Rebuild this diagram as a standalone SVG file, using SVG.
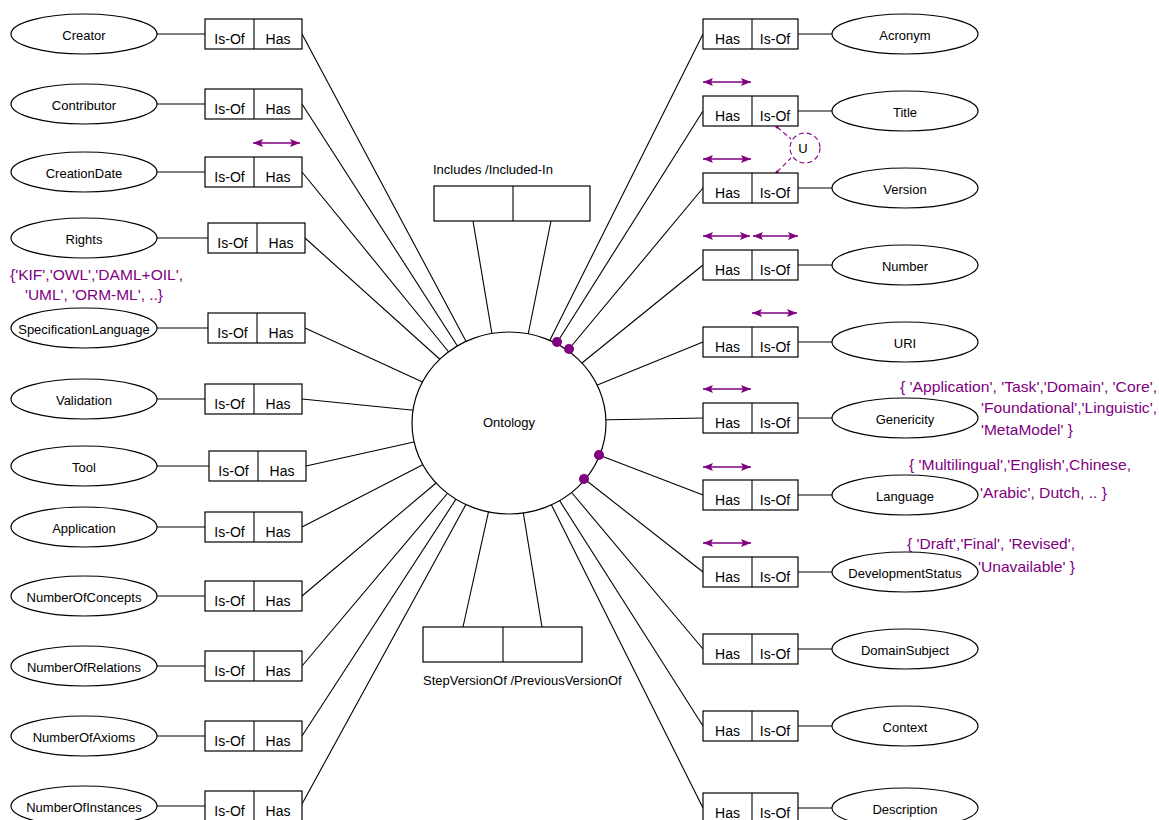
<svg xmlns="http://www.w3.org/2000/svg" width="1159" height="820" viewBox="0 0 1159 820">
<style>
  .bg{fill:#ffffff}
  .ell{fill:#ffffff;stroke:#000;stroke-width:1.2}
  .box{fill:#ffffff;stroke:#000;stroke-width:1.2}
  .ln{stroke:#000;stroke-width:1.1;fill:none}
  .lbl{font-family:"Liberation Sans",Arial,sans-serif;font-size:13px;fill:#000;text-anchor:middle}
  .rt{font-family:"Liberation Sans",Arial,sans-serif;font-size:14px;fill:#000;text-anchor:middle}
  .cap{font-family:"Liberation Sans",Arial,sans-serif;font-size:13px;fill:#000}
  .ann{font-family:"Liberation Sans",Arial,sans-serif;font-size:15px;fill:#800080}
  .arr{stroke:#800080;stroke-width:1.6;fill:none;marker-start:url(#ah);marker-end:url(#ah)}
  .dot{fill:#800080}
  .dash{stroke:#800080;stroke-width:1.1;fill:none;stroke-dasharray:5 3}
</style>
<defs>
  <marker id="ah" viewBox="0 0 10 8" refX="10" refY="4" markerWidth="10" markerHeight="8" markerUnits="userSpaceOnUse" orient="auto-start-reverse">
    <path d="M0,0 L10,4 L0,8 L2,4 z" fill="#800080"/>
  </marker>
</defs>
<rect class="bg" x="0" y="0" width="1159" height="820"/>

<g id="connectors">
  <!-- attribute ellipse to role box (left) -->
  <line class="ln" x1="157" y1="34" x2="205" y2="34"/>
  <line class="ln" x1="157" y1="104" x2="205" y2="104"/>
  <line class="ln" x1="157" y1="172" x2="205" y2="172"/>
  <line class="ln" x1="157" y1="238" x2="208" y2="238"/>
  <line class="ln" x1="157" y1="328" x2="208" y2="328"/>
  <line class="ln" x1="157" y1="399" x2="205" y2="399"/>
  <line class="ln" x1="157" y1="466" x2="209" y2="466"/>
  <line class="ln" x1="157" y1="527" x2="205" y2="527"/>
  <line class="ln" x1="157" y1="596" x2="205" y2="596"/>
  <line class="ln" x1="157" y1="666" x2="205" y2="666"/>
  <line class="ln" x1="157" y1="736" x2="205" y2="736"/>
  <line class="ln" x1="157" y1="806" x2="205" y2="806"/>
  <!-- role box to Ontology (left) -->
  <line class="ln" x1="302" y1="34" x2="468" y2="345"/>
  <line class="ln" x1="302" y1="104" x2="460" y2="350"/>
  <line class="ln" x1="302" y1="172" x2="452" y2="356"/>
  <line class="ln" x1="305" y1="238" x2="444" y2="363"/>
  <line class="ln" x1="305" y1="328" x2="429" y2="385"/>
  <line class="ln" x1="302" y1="399" x2="421" y2="411"/>
  <line class="ln" x1="306" y1="466" x2="423" y2="440"/>
  <line class="ln" x1="302" y1="527" x2="430" y2="461"/>
  <line class="ln" x1="302" y1="596" x2="442" y2="478"/>
  <line class="ln" x1="302" y1="666" x2="452" y2="488"/>
  <line class="ln" x1="302" y1="736" x2="460" y2="493"/>
  <line class="ln" x1="302" y1="804" x2="470" y2="497"/>
  <!-- role box to ellipse (right) -->
  <line class="ln" x1="798" y1="34" x2="832" y2="34"/>
  <line class="ln" x1="798" y1="111" x2="832" y2="111"/>
  <line class="ln" x1="798" y1="188" x2="832" y2="188"/>
  <line class="ln" x1="798" y1="265" x2="832" y2="265"/>
  <line class="ln" x1="798" y1="342" x2="832" y2="342"/>
  <line class="ln" x1="798" y1="418" x2="832" y2="418"/>
  <line class="ln" x1="798" y1="495" x2="832" y2="495"/>
  <line class="ln" x1="798" y1="572" x2="832" y2="572"/>
  <line class="ln" x1="798" y1="649" x2="832" y2="649"/>
  <line class="ln" x1="798" y1="726" x2="832" y2="726"/>
  <line class="ln" x1="798" y1="808" x2="832" y2="808"/>
  <!-- role box to Ontology (right) -->
  <line class="ln" x1="703" y1="34" x2="548" y2="344"/>
  <line class="ln" x1="703" y1="111" x2="553" y2="349"/>
  <line class="ln" x1="703" y1="188" x2="564" y2="355"/>
  <line class="ln" x1="703" y1="265" x2="577" y2="367"/>
  <line class="ln" x1="703" y1="342" x2="590" y2="388"/>
  <line class="ln" x1="703" y1="418" x2="597" y2="420"/>
  <line class="ln" x1="703" y1="495" x2="591" y2="452"/>
  <line class="ln" x1="703" y1="572" x2="578" y2="474"/>
  <line class="ln" x1="703" y1="649" x2="567" y2="487"/>
  <line class="ln" x1="703" y1="726" x2="556" y2="495"/>
  <line class="ln" x1="703" y1="808" x2="548" y2="498"/>
  <!-- ring relations -->
  <line class="ln" x1="473" y1="221" x2="493" y2="340"/>
  <line class="ln" x1="551" y1="221" x2="527" y2="340"/>
  <line class="ln" x1="463" y1="627" x2="490" y2="505"/>
  <line class="ln" x1="542" y1="627" x2="522" y2="505"/>
</g>

<g id="ontology">
  <ellipse class="ell" cx="509" cy="423" rx="97" ry="91"/>
  <text class="lbl" x="509" y="427">Ontology</text>
</g>

<g id="mandatory-dots">
  <circle class="dot" cx="557" cy="342" r="5"/>
  <circle class="dot" cx="569" cy="349" r="5"/>
  <circle class="dot" cx="599" cy="455" r="5"/>
  <circle class="dot" cx="584" cy="479" r="5"/>
</g>

<!-- left attributes -->
<g id="creator"><ellipse class="ell" cx="84" cy="34" rx="73" ry="20"/><text class="lbl" x="84" y="40">Creator</text></g>
<g id="creator-role"><rect class="box" x="205" y="19" width="97" height="30"/><line class="ln" x1="254" y1="19" x2="254" y2="49"/><text class="rt" x="229.5" y="44">Is-Of</text><text class="rt" x="278" y="44">Has</text></g>

<g id="contributor"><ellipse class="ell" cx="84" cy="104" rx="73" ry="20"/><text class="lbl" x="84" y="110">Contributor</text></g>
<g id="contributor-role"><rect class="box" x="205" y="89" width="97" height="30"/><line class="ln" x1="254" y1="89" x2="254" y2="119"/><text class="rt" x="229.5" y="114">Is-Of</text><text class="rt" x="278" y="114">Has</text></g>

<g id="creationdate"><ellipse class="ell" cx="84" cy="172" rx="73" ry="20"/><text class="lbl" x="84" y="178">CreationDate</text></g>
<g id="creationdate-role"><rect class="box" x="205" y="157" width="97" height="30"/><line class="ln" x1="254" y1="157" x2="254" y2="187"/><text class="rt" x="229.5" y="182">Is-Of</text><text class="rt" x="278" y="182">Has</text>
  <line class="arr" x1="253" y1="143" x2="300" y2="143"/></g>

<g id="rights"><ellipse class="ell" cx="84" cy="238" rx="73" ry="20"/><text class="lbl" x="84" y="244">Rights</text></g>
<g id="rights-role"><rect class="box" x="208" y="223" width="97" height="30"/><line class="ln" x1="257" y1="223" x2="257" y2="253"/><text class="rt" x="232.5" y="248">Is-Of</text><text class="rt" x="281" y="248">Has</text></g>

<g id="speclang-values">
  <text class="ann" x="10" y="280" textLength="173" lengthAdjust="spacingAndGlyphs">{'KIF','OWL','DAML+OIL',</text>
  <text class="ann" x="25" y="300" textLength="138" lengthAdjust="spacingAndGlyphs">'UML', 'ORM-ML', ..}</text>
</g>

<g id="specificationlanguage"><ellipse class="ell" cx="84" cy="328" rx="73" ry="20"/><text class="lbl" x="84" y="334">SpecificationLanguage</text></g>
<g id="specificationlanguage-role"><rect class="box" x="208" y="313" width="97" height="30"/><line class="ln" x1="257" y1="313" x2="257" y2="343"/><text class="rt" x="232.5" y="338">Is-Of</text><text class="rt" x="281" y="338">Has</text></g>

<g id="validation"><ellipse class="ell" cx="84" cy="399" rx="73" ry="20"/><text class="lbl" x="84" y="405">Validation</text></g>
<g id="validation-role"><rect class="box" x="205" y="384" width="97" height="30"/><line class="ln" x1="254" y1="384" x2="254" y2="414"/><text class="rt" x="229.5" y="409">Is-Of</text><text class="rt" x="278" y="409">Has</text></g>

<g id="tool"><ellipse class="ell" cx="84" cy="466" rx="73" ry="20"/><text class="lbl" x="84" y="472">Tool</text></g>
<g id="tool-role"><rect class="box" x="209" y="451" width="97" height="30"/><line class="ln" x1="258" y1="451" x2="258" y2="481"/><text class="rt" x="233.5" y="476">Is-Of</text><text class="rt" x="282" y="476">Has</text></g>

<g id="application"><ellipse class="ell" cx="84" cy="527" rx="73" ry="20"/><text class="lbl" x="84" y="533">Application</text></g>
<g id="application-role"><rect class="box" x="205" y="512" width="97" height="30"/><line class="ln" x1="254" y1="512" x2="254" y2="542"/><text class="rt" x="229.5" y="537">Is-Of</text><text class="rt" x="278" y="537">Has</text></g>

<g id="numberofconcepts"><ellipse class="ell" cx="84" cy="596" rx="73" ry="20"/><text class="lbl" x="84" y="602">NumberOfConcepts</text></g>
<g id="numberofconcepts-role"><rect class="box" x="205" y="581" width="97" height="30"/><line class="ln" x1="254" y1="581" x2="254" y2="611"/><text class="rt" x="229.5" y="606">Is-Of</text><text class="rt" x="278" y="606">Has</text></g>

<g id="numberofrelations"><ellipse class="ell" cx="84" cy="666" rx="73" ry="20"/><text class="lbl" x="84" y="672">NumberOfRelations</text></g>
<g id="numberofrelations-role"><rect class="box" x="205" y="651" width="97" height="30"/><line class="ln" x1="254" y1="651" x2="254" y2="681"/><text class="rt" x="229.5" y="676">Is-Of</text><text class="rt" x="278" y="676">Has</text></g>

<g id="numberofaxioms"><ellipse class="ell" cx="84" cy="736" rx="73" ry="20"/><text class="lbl" x="84" y="742">NumberOfAxioms</text></g>
<g id="numberofaxioms-role"><rect class="box" x="205" y="721" width="97" height="30"/><line class="ln" x1="254" y1="721" x2="254" y2="751"/><text class="rt" x="229.5" y="746">Is-Of</text><text class="rt" x="278" y="746">Has</text></g>

<g id="numberofinstances"><ellipse class="ell" cx="84" cy="806" rx="73" ry="20"/><text class="lbl" x="84" y="812">NumberOfInstances</text></g>
<g id="numberofinstances-role"><rect class="box" x="205" y="791" width="97" height="30"/><line class="ln" x1="254" y1="791" x2="254" y2="821"/><text class="rt" x="229.5" y="816">Is-Of</text><text class="rt" x="278" y="816">Has</text></g>

<!-- ring relations -->
<g id="includes">
  <text class="cap" x="433" y="174">Includes /Included-In</text>
  <rect class="box" x="434" y="186" width="156" height="35"/>
  <line class="ln" x1="513" y1="186" x2="513" y2="221"/>
</g>
<g id="stepversionof">
  <rect class="box" x="423" y="627" width="159" height="35"/>
  <line class="ln" x1="503" y1="627" x2="503" y2="662"/>
  <text class="cap" x="423" y="685">StepVersionOf /PreviousVersionOf</text>
</g>

<!-- right attributes -->
<g id="acronym-role"><rect class="box" x="703" y="19" width="95" height="30"/><line class="ln" x1="752" y1="19" x2="752" y2="49"/><text class="rt" x="727.5" y="44">Has</text><text class="rt" x="775" y="44">Is-Of</text></g>
<g id="acronym"><ellipse class="ell" cx="905" cy="34" rx="73" ry="20"/><text class="lbl" x="905" y="40">Acronym</text></g>

<g id="title-role"><rect class="box" x="703" y="96" width="95" height="30"/><line class="ln" x1="752" y1="96" x2="752" y2="126"/><text class="rt" x="727.5" y="121">Has</text><text class="rt" x="775" y="121">Is-Of</text>
  <line class="arr" x1="703" y1="82" x2="751" y2="82"/></g>
<g id="title"><ellipse class="ell" cx="905" cy="111" rx="73" ry="20"/><text class="lbl" x="905" y="117">Title</text></g>

<g id="uniqueness-u">
  <circle class="dash" cx="805" cy="148" r="15"/>
  <path class="dash" d="M777,127 L791,139"/>
  <path class="dash" d="M777,172 L791,158"/>
  <circle class="dot" cx="777" cy="127" r="1.5"/>
  <circle class="dot" cx="777" cy="172" r="1.5"/>
  <text class="lbl" x="803" y="153">U</text>
</g>

<g id="version-role"><rect class="box" x="703" y="173" width="95" height="30"/><line class="ln" x1="752" y1="173" x2="752" y2="203"/><text class="rt" x="727.5" y="198">Has</text><text class="rt" x="775" y="198">Is-Of</text>
  <line class="arr" x1="703" y1="159" x2="751" y2="159"/></g>
<g id="version"><ellipse class="ell" cx="905" cy="188" rx="73" ry="20"/><text class="lbl" x="905" y="194">Version</text></g>

<g id="number-role"><rect class="box" x="703" y="250" width="95" height="30"/><line class="ln" x1="752" y1="250" x2="752" y2="280"/><text class="rt" x="727.5" y="275">Has</text><text class="rt" x="775" y="275">Is-Of</text>
  <line class="arr" x1="703" y1="236" x2="750" y2="236"/><line class="arr" x1="753" y1="236" x2="798" y2="236"/></g>
<g id="number"><ellipse class="ell" cx="905" cy="265" rx="73" ry="20"/><text class="lbl" x="905" y="271">Number</text></g>

<g id="uri-role"><rect class="box" x="703" y="327" width="95" height="30"/><line class="ln" x1="752" y1="327" x2="752" y2="357"/><text class="rt" x="727.5" y="352">Has</text><text class="rt" x="775" y="352">Is-Of</text>
  <line class="arr" x1="752" y1="313" x2="797" y2="313"/></g>
<g id="uri"><ellipse class="ell" cx="905" cy="342" rx="73" ry="20"/><text class="lbl" x="905" y="348">URI</text></g>

<g id="genericity-role"><rect class="box" x="703" y="403" width="95" height="30"/><line class="ln" x1="752" y1="403" x2="752" y2="433"/><text class="rt" x="727.5" y="428">Has</text><text class="rt" x="775" y="428">Is-Of</text>
  <line class="arr" x1="703" y1="389" x2="751" y2="389"/></g>
<g id="genericity"><ellipse class="ell" cx="905" cy="418" rx="73" ry="20"/><text class="lbl" x="905" y="424">Genericity</text></g>
<g id="genericity-values">
  <text class="ann" x="900" y="392" textLength="257" lengthAdjust="spacingAndGlyphs">{ 'Application', 'Task','Domain', 'Core',</text>
  <text class="ann" x="981" y="413" textLength="176" lengthAdjust="spacingAndGlyphs">'Foundational','Linguistic',</text>
  <text class="ann" x="981" y="435" textLength="92" lengthAdjust="spacingAndGlyphs">'MetaModel' }</text>
</g>

<g id="language-role"><rect class="box" x="703" y="480" width="95" height="30"/><line class="ln" x1="752" y1="480" x2="752" y2="510"/><text class="rt" x="727.5" y="505">Has</text><text class="rt" x="775" y="505">Is-Of</text>
  <line class="arr" x1="703" y1="467" x2="751" y2="467"/></g>
<g id="language"><ellipse class="ell" cx="905" cy="495" rx="73" ry="20"/><text class="lbl" x="905" y="501">Language</text></g>
<g id="language-values">
  <text class="ann" x="909" y="470" textLength="222" lengthAdjust="spacingAndGlyphs">{ 'Multilingual','English',Chinese,</text>
  <text class="ann" x="980" y="498" textLength="127" lengthAdjust="spacingAndGlyphs">'Arabic', Dutch, .. }</text>
</g>

<g id="developmentstatus-role"><rect class="box" x="703" y="557" width="95" height="30"/><line class="ln" x1="752" y1="557" x2="752" y2="587"/><text class="rt" x="727.5" y="582">Has</text><text class="rt" x="775" y="582">Is-Of</text>
  <line class="arr" x1="703" y1="543" x2="751" y2="543"/></g>
<g id="developmentstatus"><ellipse class="ell" cx="905" cy="572" rx="73" ry="20"/><text class="lbl" x="905" y="578">DevelopmentStatus</text></g>
<g id="developmentstatus-values">
  <text class="ann" x="907" y="549" textLength="168" lengthAdjust="spacingAndGlyphs">{ 'Draft','Final', 'Revised',</text>
  <text class="ann" x="978" y="572" textLength="97" lengthAdjust="spacingAndGlyphs">'Unavailable' }</text>
</g>

<g id="domainsubject-role"><rect class="box" x="703" y="634" width="95" height="30"/><line class="ln" x1="752" y1="634" x2="752" y2="664"/><text class="rt" x="727.5" y="659">Has</text><text class="rt" x="775" y="659">Is-Of</text></g>
<g id="domainsubject"><ellipse class="ell" cx="905" cy="649" rx="73" ry="20"/><text class="lbl" x="905" y="655">DomainSubject</text></g>

<g id="context-role"><rect class="box" x="703" y="711" width="95" height="30"/><line class="ln" x1="752" y1="711" x2="752" y2="741"/><text class="rt" x="727.5" y="736">Has</text><text class="rt" x="775" y="736">Is-Of</text></g>
<g id="context"><ellipse class="ell" cx="905" cy="726" rx="73" ry="20"/><text class="lbl" x="905" y="732">Context</text></g>

<g id="description-role"><rect class="box" x="703" y="793" width="95" height="30"/><line class="ln" x1="752" y1="793" x2="752" y2="823"/><text class="rt" x="727.5" y="818">Has</text><text class="rt" x="775" y="818">Is-Of</text></g>
<g id="description"><ellipse class="ell" cx="905" cy="808" rx="73" ry="20"/><text class="lbl" x="905" y="814">Description</text></g>
</svg>
